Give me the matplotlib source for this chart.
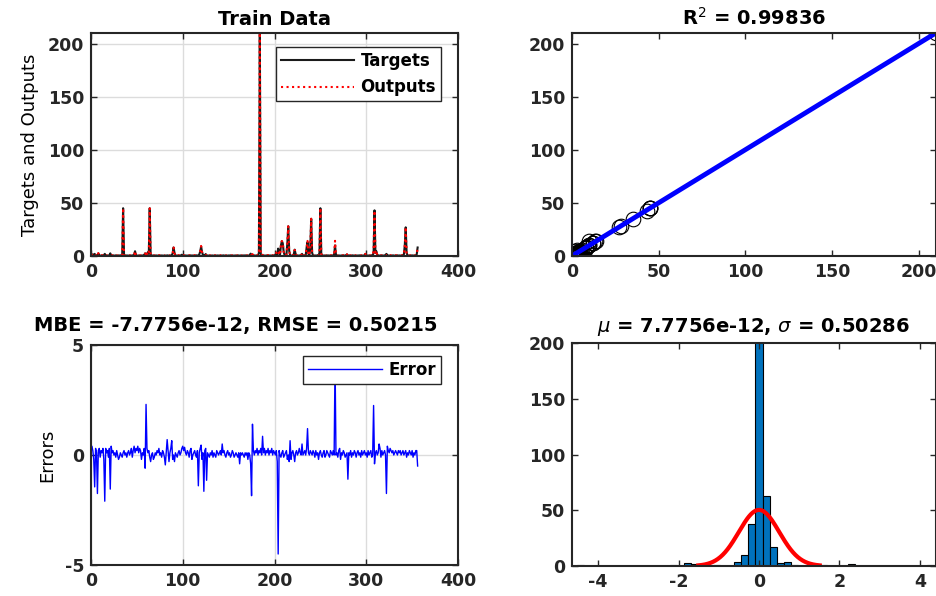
import numpy as np
import matplotlib
matplotlib.use("Agg")
import matplotlib.pyplot as plt

plt.rcParams['font.family'] = ['DejaVu Sans']
plt.rcParams['mathtext.fontset'] = 'dejavusans'
plt.rcParams['axes.unicode_minus'] = False

targets = [
    0.5, 0.8, 1.5, 0.6, 2.0, 0.4, 0.3, 0.9, 2.5, 0.5, 0.3, 0.4, 0.6, 0.3, 0.5, 2.0, 0.7, 0.4, 0.3, 0.5,
    0.6, 2.5, 0.4, 0.3, 0.5, 0.4, 0.3, 0.6, 0.4, 0.3, 0.5, 0.4, 0.6, 0.3, 1.0, 45.0, 1.2, 0.4, 0.3, 0.5,
    0.4, 0.3, 0.5, 0.4, 0.3, 0.6, 0.4, 1.0, 4.5, 0.8, 0.4, 0.3, 0.5, 0.4, 0.3, 0.5, 0.4, 0.6, 1.0, 2.5,
    2.0, 1.5, 3.5, 2.0, 45.0, 1.5, 0.4, 0.3, 0.5, 0.4, 0.3, 0.5, 0.4, 0.3, 0.6, 0.4, 0.3, 0.5, 0.4, 0.3,
    0.5, 0.4, 0.3, 0.6, 0.4, 0.3, 0.5, 0.4, 0.6, 2.5, 8.0, 3.0, 0.5, 0.4, 0.3, 0.5, 0.4, 0.3, 0.6, 1.2,
    0.5, 0.4, 0.3, 0.5, 0.4, 0.3, 0.5, 0.4, 0.6, 0.3, 0.5, 0.4, 0.3, 0.5, 0.4, 0.6, 0.3, 0.5, 1.5, 4.0,
    9.0, 4.0, 0.8, 0.5, 0.4, 1.8, 0.6, 0.4, 0.3, 0.5, 0.4, 0.3, 0.5, 0.4, 0.3, 0.6, 0.4, 0.3, 0.5, 0.4,
    0.3, 0.5, 0.4, 0.3, 0.6, 0.4, 0.3, 0.5, 0.4, 0.3, 0.5, 0.4, 0.6, 0.3, 0.5, 0.4, 0.3, 0.5, 0.4, 0.3,
    0.6, 0.4, 0.3, 0.5, 0.4, 0.3, 0.5, 0.4, 0.6, 0.3, 0.5, 0.4, 0.3, 1.0, 2.2, 0.8, 0.4, 0.3, 0.5, 0.4,
    0.3, 0.5, 0.4, 3.0, 210.0, 2.0, 0.4, 0.3, 0.5, 0.4, 0.3, 0.5, 0.4, 0.6, 0.3, 0.5, 0.4, 0.3, 0.6, 0.4,
    0.5, 1.0, 3.0, 1.2, 7.0, 3.0, 1.0, 10.0, 14.0, 12.0, 4.0, 0.8, 0.5, 1.0, 12.0, 28.0, 5.0, 0.6, 0.4, 0.3,
    0.5, 1.5, 6.0, 2.0, 0.6, 0.4, 0.3, 0.5, 0.4, 0.6, 2.0, 0.5, 0.4, 0.3, 0.6, 8.0, 13.0, 2.0, 0.5, 8.0,
    35.0, 3.0, 0.5, 0.4, 0.3, 0.5, 0.4, 0.6, 0.3, 3.0, 45.0, 2.0, 0.4, 0.3, 0.5, 0.4, 0.3, 0.6, 0.4, 0.5,
    0.3, 0.4, 0.5, 0.3, 0.6, 1.5, 10.0, 1.0, 0.4, 0.3, 0.5, 0.4, 0.3, 0.5, 0.4, 0.6, 0.3, 0.5, 0.4, 1.5,
    0.4, 0.3, 0.5, 0.4, 0.3, 0.6, 0.4, 0.3, 0.5, 0.4, 0.3, 0.5, 0.4, 0.6, 0.3, 0.5, 0.4, 0.3, 0.6, 2.0,
    0.8, 0.4, 0.3, 0.5, 0.4, 0.3, 0.6, 0.5, 3.0, 43.0, 3.0, 4.5, 1.0, 0.5, 0.4, 0.3, 0.6, 0.4, 0.5, 0.3,
    0.5, 1.0, 2.0, 0.8, 0.4, 0.3, 0.5, 0.4, 0.3, 0.6, 0.4, 0.3, 0.5, 0.4, 0.6, 0.3, 0.5, 0.4, 0.3, 0.6,
    0.5, 1.5, 10.0, 27.0, 3.0, 0.5, 0.4, 0.3, 0.5, 0.4, 0.6, 0.3, 0.5, 0.4, 0.6, 1.5, 8.0,
]

# Errors (outputs - targets)
errors = [
    0.1, 0.4, 0.2, -0.2, -1.45, 0.3, 0.1, -1.75, 0.2, 0.3, -0.1, 0.2, 0.1, 0.3, -0.2, -2.1, 0.3, 0.1, 0.2, -0.1,
    0.3, -1.55, 0.4, 0.1, 0.2, 0.0, 0.1, -0.1, 0.2, 0.0, -0.2, -0.1, 0.1, 0.0, -0.1, 0.1, 0.2, 0.0, 0.1, -0.1,
    0.1, 0.2, 0.0, 0.1, 0.3, -0.1, 0.2, 0.4, 0.1, 0.3, 0.2, 0.4, 0.1, 0.3, 0.2, -0.2, 0.1, 0.0, 0.3, -0.6,
    2.3, 0.3, 0.1, 0.2, -0.1, -0.3, 0.0, 0.1, -0.2, -0.1, 0.1, 0.0, 0.2, 0.1, 0.3, 0.0, 0.1, -0.1, 0.2, 0.1,
    -0.1, -0.45, 0.1, 0.7, 0.2, -0.3, 0.1, 0.3, 0.65, -0.2, 0.0, -0.3, 0.1, 0.0, -0.1, 0.1, 0.2, 0.0, 0.1, 0.3,
    0.4, 0.2, 0.35, 0.1, 0.0, 0.2, 0.1, -0.1, 0.2, 0.3, -0.2, 0.0, 0.1, 0.2, 0.0, -0.1, 0.2, -1.4, 0.1, 0.3,
    0.45, -0.2, 0.1, -1.65, 0.2, 0.3, -1.15, 0.1, 0.0, -0.1, 0.1, 0.0, 0.2, -0.1, 0.1, 0.0, -0.1, 0.2, 0.1, 0.0,
    0.1, 0.2, 0.0, 0.5, 0.1, 0.2, 0.0, -0.1, 0.1, 0.2, 0.0, 0.1, -0.1, 0.0, 0.2, 0.1, -0.1, 0.0, 0.1, 0.0,
    -0.1, 0.1, -0.4, 0.1, 0.0, 0.1, 0.0, -0.1, 0.1, 0.0, 0.1, -0.2, 0.1, 0.0, -0.4, -1.85, 1.4, 0.2, 0.0, 0.2,
    0.1, 0.3, 0.0, 0.2, 0.1, 0.3, 0.0, 0.85, 0.1, 0.3, 0.0, 0.2, 0.1, 0.3, 0.0, 0.2, 0.1, 0.3, 0.0, 0.2,
    0.1, 0.0, 0.2, -0.3, -4.5, 0.2, 0.0, -0.1, 0.1, 0.2, -0.1, 0.0, 0.1, 0.2, -0.2, 0.0, -0.3, 0.65, -0.2, 0.1,
    0.2, 0.0, -0.3, 0.1, 0.2, 0.0, 0.1, 0.3, 0.1, 0.0, 0.5, 0.0, 0.1, 0.2, 0.0, 0.3, 1.2, 0.1, 0.0, 0.2,
    0.1, 0.0, 0.2, 0.1, -0.1, 0.2, 0.0, 0.1, -0.2, 0.1, 0.2, 0.0, -0.1, 0.1, 0.2, -0.1, 0.0, 0.2, 0.1, 0.0,
    -0.1, 0.2, 0.1, 0.0, 0.2, 0.0, 4.3, 0.0, 0.1, -0.1, 0.2, 0.3, -0.2, 0.1, 0.0, 0.2, 0.1, -0.1, 0.0, 0.1,
    -1.1, 0.1, 0.0, 0.2, -0.1, 0.1, 0.0, 0.2, 0.1, -0.1, 0.1, 0.2, 0.0, 0.1, -0.1, 0.2, 0.0, 0.1, 0.2, 0.0,
    0.1, -0.1, 0.2, 0.0, 0.1, 0.2, -0.1, 0.0, 2.25, -0.4, 0.1, 0.2, 0.0, 0.1, 0.5, 0.3, -0.1, 0.2, 0.0, 0.1,
    0.2, 0.0, -1.75, 0.4, 0.2, 0.1, 0.3, 0.2, 0.1, 0.2, 0.0, 0.1, 0.2, 0.1, 0.0, 0.2, 0.1, 0.2, 0.0, 0.1,
    0.2, 0.0, 0.1, 0.2, -0.1, 0.1, 0.0, 0.2, 0.1, 0.0, 0.2, -0.1, 0.1, 0.0, 0.2, 0.2, -0.5,
]

# Histogram of errors (50 bins)
hist_start = -4.53
hist_width = 0.1776
hist_counts = [1, 0, 0, 0, 0, 0, 0, 0, 0, 0, 0, 0, 0, 1, 0, 3, 2, 0, 0, 1,
               0, 0, 4, 10, 38, 205, 63, 17, 3, 4, 1, 0, 0, 0, 1, 0, 0, 0, 2, 0,
               0, 0, 0, 0, 0, 0, 0, 0, 0, 1]

r2_text = 'R$^2$ = 0.99836'
mbe_text = 'MBE = -7.7756e-12, RMSE = 0.50215'
mu_val = 7.7756e-12
sigma_val = 0.50286

DARK = '#262626'

targets = np.array(targets)
errors = np.array(errors)
outputs = targets + errors
idx = np.arange(len(targets))


def style(ax, grid=False):
    ax.tick_params(direction='in', top=True, right=True, length=4, width=1,
                   colors=DARK, labelsize=12.5, pad=5)
    for lab in ax.get_xticklabels() + ax.get_yticklabels():
        lab.set_fontweight('bold')
    for sp in ax.spines.values():
        sp.set_linewidth(1.5)
        sp.set_color(DARK)
    if grid:
        ax.grid(True, color='#dcdcdc', linewidth=1)
        ax.set_axisbelow(True)


fig = plt.figure(figsize=(9.37, 5.96), dpi=100)
W, H = 937.0, 596.0
ax1 = fig.add_axes([91 / W, 1 - 256 / H, 367 / W, 223 / H])
ax2 = fig.add_axes([572 / W, 1 - 256 / H, 364 / W, 223 / H])
ax3 = fig.add_axes([91 / W, 1 - 565 / H, 367 / W, 220 / H])
ax4 = fig.add_axes([572 / W, 1 - 566 / H, 364 / W, 223 / H])

# Train data: targets vs outputs
ax1.plot(idx, targets, color='#1a1a1a', linewidth=1.5, label='Targets')
ax1.plot(idx, outputs, color='r', linestyle=':', linewidth=1.5, label='Outputs')
ax1.set_xlim(0, 400)
ax1.set_ylim(0, targets.max())
ax1.set_xticks([0, 100, 200, 300, 400])
ax1.set_yticks([0, 50, 100, 150, 200])
ax1.set_title('Train Data', fontsize=14, fontweight='bold', pad=6)
ax1.set_ylabel('Targets and Outputs', fontsize=13, labelpad=6)
leg = ax1.legend(loc='upper right', bbox_to_anchor=(0.954, 0.937), fancybox=False,
                 edgecolor=DARK, framealpha=1, handlelength=4.4, handletextpad=0.4,
                 borderaxespad=0, borderpad=0.3, prop={'weight': 'bold', 'size': 12})
leg.get_frame().set_linewidth(1)
style(ax1, grid=True)

# Regression
ax2.plot(targets, outputs, 'ko', markerfacecolor='none', markersize=10.5, markeredgewidth=0.8)
slope, icpt = np.polyfit(targets, outputs, 1)
xl = np.array([targets.min(), targets.max()])
ax2.plot(xl, slope * xl + icpt, color='b', linewidth=3.5)
ax2.set_xlim(0, targets.max())
ax2.set_ylim(0, targets.max())
ax2.set_xticks([0, 50, 100, 150, 200])
ax2.set_yticks([0, 50, 100, 150, 200])
ax2.set_title(r2_text, fontsize=14, fontweight='bold', pad=6)
style(ax2)

# Errors
ax3.plot(idx, errors, color='b', linewidth=1, label='Error')
ax3.set_xlim(0, 400)
ax3.set_ylim(-5, 5)
ax3.set_xticks([0, 100, 200, 300, 400])
ax3.set_yticks([-5, 0, 5])
ax3.set_title(mbe_text, fontsize=14, fontweight='bold', pad=10, x=0.395)
ax3.set_ylabel('Errors', fontsize=13, labelpad=6)
leg = ax3.legend(loc='upper right', bbox_to_anchor=(0.954, 0.95), fancybox=False,
                 edgecolor=DARK, framealpha=1, handlelength=4.4, handletextpad=0.4,
                 borderaxespad=0, borderpad=0.3, prop={'weight': 'bold', 'size': 12})
leg.get_frame().set_linewidth(1)
style(ax3, grid=True)

# Histogram with normal fit
centers = hist_start + hist_width * (np.arange(len(hist_counts)) + 0.5)
ax4.bar(centers, hist_counts, width=hist_width, color='#0072BD', edgecolor='k', linewidth=0.8)
xs = np.linspace(mu_val - 3 * sigma_val, mu_val + 3 * sigma_val, 200)
scale = sum(hist_counts) * hist_width
pdf = scale * np.exp(-0.5 * ((xs - mu_val) / sigma_val) ** 2) / (sigma_val * np.sqrt(2 * np.pi))
ax4.plot(xs, pdf, color='r', linewidth=3)
ax4.set_xlim(-4.65, 4.40)
ax4.set_ylim(0, 200)
ax4.set_xticks([-4, -2, 0, 2, 4])
ax4.set_yticks([0, 50, 100, 150, 200])
ax4.set_title(r'$\mu$ = 7.7756e-12, $\sigma$ = 0.50286', fontsize=14,
              fontweight='bold', pad=8)
style(ax4)

fig.savefig('out.png', dpi=100)
